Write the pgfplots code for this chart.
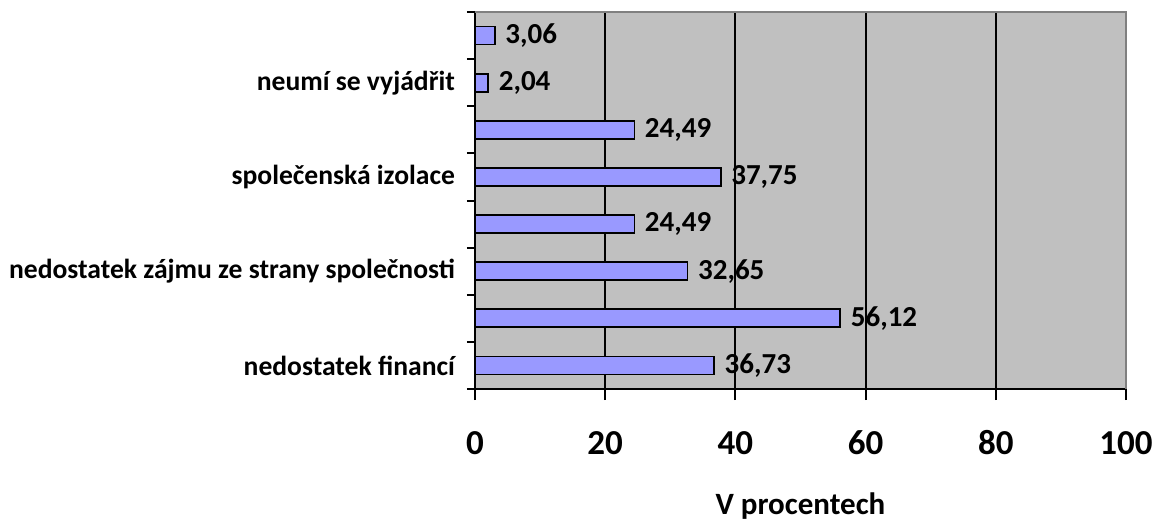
\documentclass[border=0pt]{standalone}
\usepackage{pgfplots}
\pgfplotsset{compat=1.18}
\usepackage{fontspec}
\setmainfont{Carlito}
\definecolor{barfill}{RGB}{153,153,255}
\definecolor{bggray}{RGB}{192,192,192}
\definecolor{framegray}{RGB}{128,128,128}
\begin{document}
\begin{tikzpicture}
\begin{axis}[
  at={(0,0)}, anchor=south west,
  scale only axis,
  width=325.5pt, height=188.5pt,
  xbar,
  bar width=9pt,
  xmin=0, xmax=100,
  ymin=0.5, ymax=8.5,
  xtick={0,20,40,60,80,100},
  ytick={1,3,5,7},
  yticklabels={nedostatek financí, nedostatek zájmu ze strany společnosti, společenská izolace, neumí se vyjádřit},
  minor ytick={0.5,1.5,2.5,3.5,4.5,5.5,6.5,7.5,8.5},
  major tick length=0pt,
  tick align=outside,
  axis x line*=bottom,
  axis y line*=left,
  axis line style={black, line width=1pt, -},
  xtick style={black, line width=1pt, /pgfplots/major tick length=5.5pt},
  minor tick style={black, line width=1pt},
  minor tick length=4pt,
  xmajorgrids,
  major grid style={black, line width=1pt},
  axis background/.style={fill=bggray},
  /pgf/number format/assume math mode=true,
  xticklabel style={font=\fontsize{17.5}{20}\selectfont\bfseries, anchor=base, yshift=-32.5pt},
  yticklabel style={font=\fontsize{13.8}{16}\selectfont\bfseries, xshift=-6.5pt},
  xlabel={V procentech},
  xlabel style={font=\fontsize{15.5}{18}\selectfont\bfseries, at={(axis description cs:0.5,0)}, anchor=base, yshift=-62.5pt},
  nodes near coords,
  nodes near coords style={font=\fontsize{14.5}{16}\selectfont\bfseries, anchor=west, xshift=1.5pt,
    /pgf/number format/.cd, fixed, fixed zerofill, precision=2, use comma, assume math mode=true},
  clip=false,
]
\addplot[draw=black, line width=0.9pt, fill=barfill] coordinates {
  (36.73,1) (56.12,2) (32.65,3) (24.49,4) (37.75,5) (24.49,6) (2.04,7) (3.06,8)
};
\end{axis}
\draw[framegray, line width=1pt] (0,188.5pt) -- (325.5pt,188.5pt) -- (325.5pt,0);
\pgfresetboundingbox
\path[use as bounding box] (-237.5pt,-66pt) rectangle (341pt,194.5pt);
\end{tikzpicture}
\end{document}
